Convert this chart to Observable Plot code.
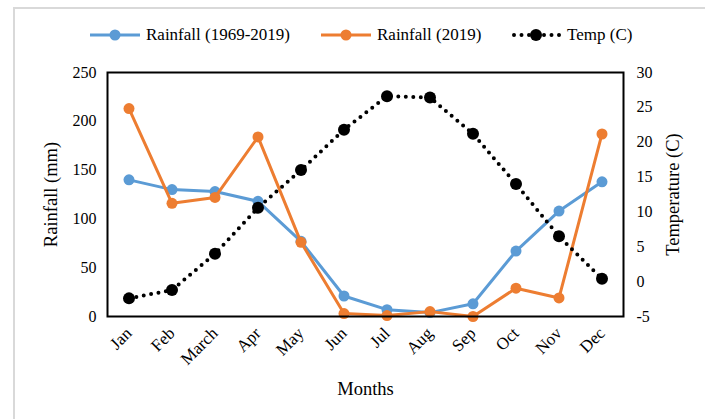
<!DOCTYPE html>
<html>
<head>
<meta charset="utf-8">
<script src="https://cdn.jsdelivr.net/npm/d3@7"></script>
<script src="https://cdn.jsdelivr.net/npm/@observablehq/plot@0.6"></script>
<style>
  html, body { margin: 0; padding: 0; background: #fff; }
  #wrap { position: relative; width: 705px; height: 419px; overflow: hidden; font-family: "Liberation Serif", "Times New Roman", serif; }
  #frame { position: absolute; left: 13px; top: 7px; right: -10px; bottom: -10px; border-top: 2px solid #d9d9d9; border-left: 2px solid #d9d9d9; }
  #chart { position: absolute; left: 0; top: 0; }
  .leg { position: absolute; top: 24px; height: 22px; display: flex; align-items: center; font-size: 17px; color: #000; white-space: nowrap; }
  .leg svg { margin-right: 4px; }
</style>
</head>
<body>
<div id="wrap">
  <div id="frame"></div>
  <div id="chart"></div>
  <div id="legend"></div>
</div>
<script>
// Monthly rainfall (mm) and mean temperature (°C)
const months = ["Jan", "Feb", "March", "Apr", "May", "Jun", "Jul", "Aug", "Sep", "Oct", "Nov", "Dec"];
const rainLongTerm = [140, 130, 128, 118, 77, 21, 7, 4, 13, 67, 108, 138];
const rain2019 = [213, 116, 122, 184, 76, 3, 1, 5, 0, 29, 19, 187];
const temperature = [-2.4, -1.2, 4.0, 10.6, 16.0, 21.8, 26.6, 26.4, 21.2, 14.0, 6.5, 0.4];
const rainTicks = [0, 50, 100, 150, 200, 250];
const tempTicks = [-5, 0, 5, 10, 15, 20, 25, 30];

const seriesNames = ["Rainfall (1969-2019)", "Rainfall (2019)", "Temp (C)"];
const blue = "#5b9bd5", orange = "#ed7d31";

// Temperature is drawn against the rainfall scale via a linear mapping
const toRain = d3.scaleLinear().domain([-5, 30]).range([0, 250]);

const longTerm = months.map((m, i) => ({month: m, value: rainLongTerm[i]}));
const recent = months.map((m, i) => ({month: m, value: rain2019[i]}));
const temp = months.map((m, i) => ({month: m, value: toRain(temperature[i])}));

const font = "'Liberation Serif', 'Times New Roman', serif";

const chart = Plot.plot({
  width: 705,
  height: 419,
  marginLeft: 107,
  marginRight: 82,
  marginTop: 72,
  marginBottom: 103,
  style: {fontFamily: font, fontSize: "16px", color: "#000", background: "transparent", overflow: "visible"},
  x: {type: "band", domain: months, padding: 0},
  y: {domain: [0, 250]},
  marks: [
    Plot.axisY(rainTicks, {anchor: "left", tickSize: 0, tickPadding: 11, label: "Rainfall (mm)", labelAnchor: "center", labelArrow: "none", labelOffset: 64, fontSize: 16}),
    Plot.axisY(tempTicks.map(t => toRain(t)), {anchor: "right", tickSize: 0, tickPadding: 13, tickFormat: r => String(Math.round(toRain.invert(r))), label: "Temperature (C)", labelAnchor: "center", labelArrow: "none", labelOffset: 55, fontSize: 16}),
    Plot.axisX({tickSize: 0, tickPadding: 14, tickRotate: -45, label: "Months", labelAnchor: "center", labelArrow: "none", labelOffset: 78, fontSize: 17}),
    Plot.line(longTerm, {x: "month", y: "value", stroke: blue, strokeWidth: 3}),
    Plot.dot(longTerm, {x: "month", y: "value", fill: blue, r: 5.5}),
    Plot.line(recent, {x: "month", y: "value", stroke: orange, strokeWidth: 3}),
    Plot.dot(recent, {x: "month", y: "value", fill: orange, r: 5.5}),
    Plot.line(temp, {x: "month", y: "value", stroke: "#000", strokeWidth: 4, strokeDasharray: "0 7.5", strokeLinecap: "round"}),
    Plot.dot(temp, {x: "month", y: "value", fill: "#000", r: 6}),
    Plot.frame({stroke: "#000", strokeWidth: 2})
  ]
});
// Type sizes: month names and axis titles
chart.querySelectorAll("g[aria-label='x-axis tick label']").forEach(g => {
  g.setAttribute("font-size", "17px");
  g.querySelectorAll("text").forEach(t => t.setAttribute("font-size", "17px"));
});
chart.querySelectorAll("g[aria-label$='axis label']").forEach(g => {
  g.setAttribute("font-size", "18.5px");
  g.querySelectorAll("text").forEach(t => t.setAttribute("font-size", "18.5px"));
});
document.getElementById("chart").appendChild(chart);

// Legend row
const legend = document.getElementById("legend");
const legendItems = [
  {name: seriesNames[0], color: blue, left: 90, dotted: false},
  {name: seriesNames[1], color: orange, left: 321, dotted: false},
  {name: seriesNames[2], color: "#000", left: 511, dotted: true}
];
for (const it of legendItems) {
  const div = document.createElement("div");
  div.className = "leg";
  div.style.left = it.left + "px";
  const line = it.dotted
    ? `<line x1="3" y1="11" x2="49" y2="11" stroke="#000" stroke-width="4" stroke-linecap="round" stroke-dasharray="0 7.5"/>`
    : `<line x1="0" y1="11" x2="50" y2="11" stroke="${it.color}" stroke-width="3"/>`;
  div.innerHTML = `<svg width="52" height="22">${line}<circle cx="25" cy="11" r="${it.dotted ? 6 : 5.5}" fill="${it.color}"/></svg><span>${it.name}</span>`;
  legend.appendChild(div);
}
</script>
</body>
</html>
